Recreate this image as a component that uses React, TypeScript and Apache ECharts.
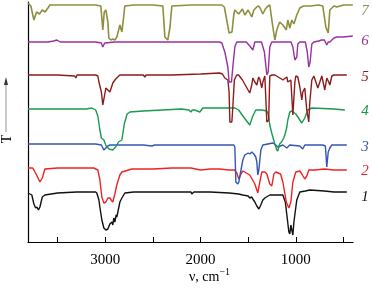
import React, { useEffect, useRef } from "react";
import * as echarts from "echarts";

const xTicks = [500, 1000, 1500, 2000, 2500, 3000, 3500];
const xLabels = [1000, 2000, 3000];
const seriesNames = ["1", "2", "3", "4", "5", "6", "7"];
const colors = ["#111111", "#ee2424", "#3556b4", "#1a9a4e", "#8c1c1c", "#98309e", "#8e8e3e"];
const labelY = [196, 170, 146, 110, 76, 40, 10];

const trace1 = [
  [3810, 49], [3770, 47], [3748, 38], [3730, 34], [3717, 35], [3700, 32], [3685, 35], [3660, 45], [3633, 47],
  [3500, 49], [3300, 50], [3100, 50], [3088, 49], [3066, 42], [3056, 35], [3035, 22], [3014, 14], [2993, 12],
  [2972, 13], [2951, 18], [2930, 20], [2920, 17], [2910, 24], [2899, 20], [2885, 27], [2878, 25], [2867, 30],
  [2846, 40], [2825, 44], [2794, 49], [2700, 50], [2400, 50], [2100, 50], [2091, 48], [2070, 50], [1900, 50],
  [1700, 49], [1600, 48], [1556, 47], [1500, 46], [1483, 44], [1462, 45], [1451, 43], [1430, 40], [1409, 36],
  [1388, 33], [1367, 37], [1346, 42], [1325, 44], [1273, 47], [1189, 47], [1136, 47], [1110, 40], [1094, 27],
  [1073, 10], [1063, 8], [1052, 17], [1042, 12], [1031, 7], [1020, 20], [990, 42], [958, 50], [900, 51],
  [853, 52], [700, 51], [600, 50], [500, 50], [465, 50],
];

const trace2 = [
  [3810, 74], [3760, 74], [3720, 67], [3685, 60], [3660, 64], [3633, 73], [3500, 74], [3300, 74], [3120, 74],
  [3077, 72], [3056, 62], [3035, 45], [3014, 39], [2993, 40], [2972, 44], [2951, 44], [2930, 41], [2920, 40],
  [2899, 48], [2878, 57], [2846, 67], [2825, 70], [2720, 73], [2500, 73], [2300, 74], [2100, 74], [2000, 72],
  [1900, 73], [1800, 73], [1700, 72], [1640, 72], [1620, 69], [1598, 63], [1570, 69], [1556, 71], [1483, 67],
  [1430, 58], [1399, 49], [1378, 60], [1357, 70], [1325, 70], [1304, 68], [1273, 58], [1252, 56], [1230, 68],
  [1210, 70], [1160, 68], [1136, 60], [1100, 40], [1073, 34], [1052, 40], [1031, 60], [1000, 70], [958, 71],
  [937, 68], [906, 63], [885, 66], [864, 72], [800, 72], [700, 73], [600, 72], [465, 72],
];

const trace3 = [
  [3810, 98], [3600, 98], [3100, 98], [3040, 97], [3014, 92], [2993, 94], [2972, 96], [2951, 97], [2800, 97],
  [2600, 97], [2511, 96], [2480, 97], [2059, 97], [1800, 97], [1650, 97], [1640, 95], [1629, 60], [1608, 58],
  [1598, 60], [1556, 82], [1535, 87], [1500, 89], [1483, 88], [1462, 90], [1440, 88], [1420, 85], [1409, 80],
  [1399, 67], [1388, 72], [1367, 92], [1346, 97], [1241, 99], [1210, 97], [1189, 95], [1136, 97], [1094, 94],
  [1063, 97], [958, 96], [927, 93], [906, 97], [717, 97], [690, 96], [675, 75], [660, 90], [643, 94], [622, 97],
  [465, 97],
];

const trace4 = [
  [3810, 133], [3500, 133], [3200, 133], [3140, 134], [3100, 132], [3077, 126], [3056, 112], [3040, 104],
  [3014, 102], [2990, 96], [2960, 93], [2920, 92], [2890, 95], [2860, 100], [2825, 102], [2800, 118],
  [2770, 128], [2741, 130], [2600, 131], [2400, 132], [2200, 133], [2120, 132], [2101, 130], [2085, 132],
  [2060, 132], [2007, 130], [1976, 134], [1800, 134], [1640, 134], [1600, 132], [1540, 124], [1483, 117],
  [1451, 126], [1420, 132], [1357, 132], [1304, 131], [1290, 128], [1273, 117], [1250, 108], [1220, 98],
  [1199, 92], [1189, 91], [1170, 98], [1150, 100], [1126, 104], [1115, 107], [1094, 115], [1084, 122],
  [1063, 130], [1042, 131], [1000, 128], [958, 122], [937, 119], [906, 124], [874, 132], [832, 134], [600, 133],
  [486, 132],
];

const trace5 = [
  [3810, 167], [3500, 167], [3320, 166], [3308, 164], [3295, 167], [3100, 167], [3077, 166], [3066, 160],
  [3040, 150], [3025, 137], [3010, 145], [2993, 154], [2972, 152], [2951, 150], [2930, 156], [2920, 159],
  [2890, 163], [2846, 167], [2700, 167], [2600, 167], [2584, 165], [2570, 167], [2300, 167], [2000, 168],
  [1800, 169], [1770, 168], [1745, 164], [1713, 162], [1700, 150], [1692, 120], [1671, 120], [1661, 135],
  [1645, 162], [1620, 167], [1600, 167], [1560, 162], [1483, 149], [1462, 157], [1451, 164], [1430, 160],
  [1409, 157], [1390, 165], [1378, 163], [1357, 154], [1346, 160], [1325, 166], [1304, 120], [1285, 122],
  [1273, 166], [1250, 167], [1220, 167], [1150, 163], [1136, 162], [1094, 165], [1084, 160], [1052, 162],
  [1031, 127], [1010, 160], [1000, 166], [979, 165], [958, 155], [937, 142], [927, 150], [906, 154], [885, 132],
  [864, 120], [853, 140], [832, 162], [811, 166], [769, 154], [748, 160], [727, 166], [696, 152], [675, 164],
  [655, 160], [643, 157], [622, 166], [600, 167], [465, 167],
];

const trace6 = [
  [3810, 200], [3600, 200], [3540, 201], [3507, 202], [3470, 200], [3300, 200], [3100, 200], [3040, 199],
  [3025, 195], [3005, 199], [2900, 200], [2500, 200], [2000, 200], [1800, 200], [1776, 199], [1745, 190],
  [1713, 175], [1700, 160], [1675, 160], [1661, 175], [1640, 195], [1620, 200], [1520, 200], [1483, 196],
  [1451, 192], [1430, 200], [1360, 200], [1330, 190], [1304, 167], [1290, 170], [1273, 195], [1252, 200],
  [1050, 200], [1031, 195], [1010, 182], [990, 185], [979, 198], [958, 200], [900, 200], [880, 190], [864, 175],
  [850, 180], [832, 198], [811, 200], [760, 201], [730, 202], [700, 202], [675, 197], [660, 200], [643, 200],
  [600, 204], [570, 205], [500, 205], [402, 206],
];

const trace7 = [
  [3810, 239], [3780, 236], [3748, 222], [3720, 230], [3690, 228], [3660, 232], [3630, 230], [3601, 234],
  [3580, 237], [3500, 237], [3300, 237], [3100, 237], [3046, 236], [3025, 212], [3010, 230], [2993, 232],
  [2972, 220], [2962, 204], [2940, 202], [2920, 203], [2899, 202], [2878, 205], [2846, 217], [2825, 210],
  [2810, 222], [2794, 236], [2700, 237], [2500, 237], [2395, 236], [2374, 205], [2343, 202], [2320, 215],
  [2301, 236], [2100, 237], [1900, 237], [1776, 237], [1750, 235], [1700, 209], [1670, 210], [1650, 228],
  [1640, 232], [1600, 228], [1560, 233], [1535, 227], [1500, 232], [1462, 225], [1440, 232], [1420, 234],
  [1399, 236], [1380, 235], [1346, 228], [1320, 233], [1304, 235], [1273, 237], [1241, 215], [1220, 202],
  [1200, 212], [1170, 220], [1136, 217], [1100, 212], [1084, 222], [1063, 214], [1042, 222], [1020, 218],
  [990, 227], [958, 234], [920, 236], [850, 236], [760, 237], [717, 236], [685, 215], [660, 209], [643, 232],
  [600, 236], [570, 235], [500, 237], [402, 237],
];

const traces = [trace1, trace2, trace3, trace4, trace5, trace6, trace7];

const SERIF = "'Liberation Serif', 'DejaVu Serif', serif";

export default function App() {
  const ref = useRef<HTMLDivElement>(null);
  useEffect(() => {
    const chart = echarts.init(ref.current!, null, { renderer: "svg" });
    chart.setOption({
      animation: false,
      grid: { left: 28, right: 19, top: 2, bottom: 50 },
      xAxis: {
        type: "value",
        inverse: true,
        min: 400,
        max: 3810,
        axisLine: { show: true, lineStyle: { color: "#000", width: 1.2 } },
        axisTick: { show: true, inside: true, length: 5, customValues: xTicks, lineStyle: { color: "#000" } },
        axisLabel: {
          customValues: xLabels,
          formatter: (v: number) => String(v),
          margin: 9,
          color: "#000",
          fontFamily: SERIF,
          fontSize: 15,
        },
        splitLine: { show: false },
      },
      yAxis: {
        type: "value",
        min: 0,
        max: 240,
        axisLine: { show: true, lineStyle: { color: "#000", width: 1.2 } },
        axisTick: { show: false },
        axisLabel: { show: false },
        splitLine: { show: false },
      },
      series: traces.map((d, i) => ({
        type: "line",
        name: seriesNames[i],
        data: d,
        showSymbol: false,
        symbol: "none",
        silent: true,
        lineStyle: { color: colors[i], width: i === 6 ? 1.6 : 1.4 },
        z: 2 + i,
      })),
      graphic: [
        ...seriesNames.map((n, i) => ({
          type: "text",
          x: 365,
          y: labelY[i],
          style: {
            text: n,
            fill: colors[i],
            font: `italic 15px ${SERIF}`,
            textAlign: "center",
            textVerticalAlign: "middle",
          },
        })),
        {
          type: "text",
          x: 189,
          y: 275,
          style: {
            text: "{a|ν, cm}{b|−1}",
            rich: {
              a: { fontFamily: SERIF, fontSize: 14, fill: "#000", verticalAlign: "bottom" },
              b: { fontFamily: SERIF, fontSize: 10, fill: "#000", padding: [0, 0, 7, 0], verticalAlign: "bottom" },
            },
            textVerticalAlign: "middle",
          },
        },
        {
          type: "line",
          shape: { x1: 6, y1: 132, x2: 6, y2: 82 },
          style: { stroke: "#b8b8b8", lineWidth: 1.5 },
        },
        {
          type: "polygon",
          shape: { points: [[6, 77], [4, 85], [8, 85]] },
          style: { fill: "#333" },
        },
        {
          type: "text",
          x: 6,
          y: 139,
          rotation: Math.PI / 2,
          style: {
            text: "T",
            fill: "#000",
            font: `14px ${SERIF}`,
            textAlign: "center",
            textVerticalAlign: "middle",
          },
        },
      ],
    });
    return () => chart.dispose();
  }, []);
  return <div ref={ref} style={{ position: "fixed", left: 0, top: 0, width: 372, height: 292 }} />;
}
